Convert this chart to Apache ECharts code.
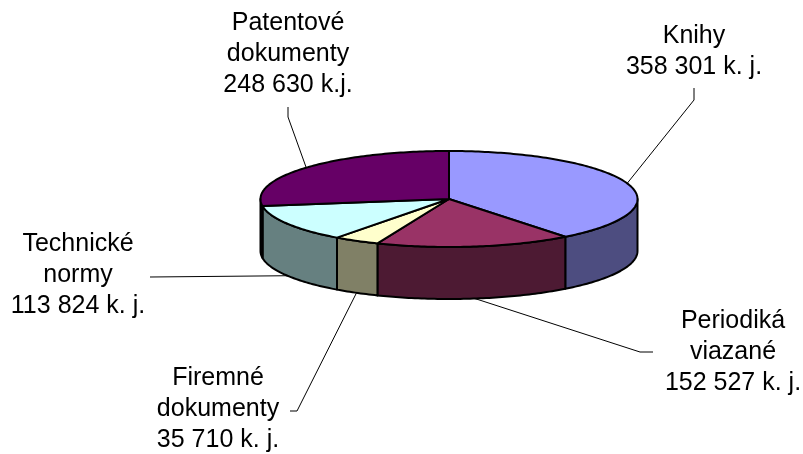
<!DOCTYPE html>
<html>
<head>
<meta charset="utf-8">
<script src="https://cdn.jsdelivr.net/npm/echarts@6/dist/echarts.min.js"></script>
<style>
    html, body { margin: 0; background: #fff; }
    #chart { width: 803px; height: 454px; }
</style>
</head>
<body>
<div id="chart"></div>
<script>
// data
var categories = ["Knihy", "Periodiká\nviazané", "Firemné\ndokumenty", "Technické\nnormy", "Patentové\ndokumenty"];
var values = [358301, 152527, 35710, 113824, 248630];
var units = ["k. j.", "k. j.", "k. j.", "k. j.", "k.j."];

// styles
var topColors = ["#9999FF", "#993366", "#FFFFCC", "#CCFFFF", "#660066"];
var sideColors = ["#4D4D80", "#4D1A33", "#808066", "#668080", "#330033"];

// 3d pie geometry (pixels)
var pie = { cx: 449, cy: 199, rx: 188.5, ry: 48, depth: 52 };

// label boxes and leader line elbows
var labelLayout = [
    { x: 694, y: 21, line: [[694, 100], [694, 88]] },
    { x: 733, y: 306, line: [[640, 352], [653, 352]] },
    { x: 218, y: 363, line: [[297, 411], [290, 411]] },
    { x: 78, y: 229, line: [[150, 277]] },
    { x: 288, y: 8, line: [[288, 117], [288, 107]] },
];

var total = values.reduce(function (s, v) { return s + v; }, 0);
var startAngles = [];
var acc = 0;
values.forEach(function (v) {
    startAngles.push(acc / total * 360);
    acc += v;
});

function fmt(v) {
    return String(v).replace(/\B(?=(\d{3})+(?!\d))/g, " ");
}

// angle in degrees, clockwise from 12 o'clock
function pt(a, dy) {
    var r = a * Math.PI / 180;
    return [pie.cx + pie.rx * Math.sin(r), pie.cy - pie.ry * Math.cos(r) + (dy || 0)];
}

function arc(a1, a2, dy) {
    var pts = [];
    var n = Math.max(2, Math.ceil((a2 - a1) / 1));
    for (var k = 0; k <= n; k++) {
        pts.push(pt(a1 + (a2 - a1) * k / n, dy));
    }
    return pts;
}

function renderItem(params, api) {
    var i = params.dataIndex;
    var a1 = startAngles[i];
    var a2 = a1 + api.value(0) / total * 360;
    var children = [];

    // side wall, only the front half is visible
    var s = Math.max(a1, 90), e = Math.min(a2, 270);
    if (s < e) {
        var sidePts = arc(s, e, 0).concat(arc(s, e, pie.depth).reverse());
        children.push({
            type: "polygon",
            z2: 0,
            shape: { points: sidePts },
            style: { fill: sideColors[i], stroke: "#000", lineWidth: 2, lineJoin: "round" },
        });
    }

    // top face
    children.push({
        type: "polygon",
        z2: 1,
        shape: { points: [[pie.cx, pie.cy]].concat(arc(a1, a2, 0)) },
        style: { fill: topColors[i], stroke: "#000", lineWidth: 2, lineJoin: "round" },
    });

    // leader line
    var mid = (a1 + a2) / 2;
    var front = mid > 90 && mid < 270;
    var anchor = pt(mid, front ? pie.depth : 0);
    var lay = labelLayout[i];
    children.push({
        type: "polyline",
        z2: 2,
        shape: { points: [anchor].concat(lay.line) },
        style: { stroke: "#000", lineWidth: 1, fill: null },
    });

    // label
    children.push({
        type: "text",
        z2: 3,
        style: {
            text: categories[i] + "\n" + fmt(api.value(0)) + " " + units[i],
            x: lay.x,
            y: lay.y,
            align: "center",
            verticalAlign: "top",
            fontFamily: "'Liberation Sans', Arial, sans-serif",
            fontSize: 25,
            lineHeight: 31,
            fill: "#000",
        },
    });

    return { type: "group", children: children };
}

var chart = echarts.init(document.getElementById("chart"));
chart.setOption({
    backgroundColor: "#fff",
    animation: false,
    series: [
        {
            type: "custom",
            coordinateSystem: "none",
            renderItem: renderItem,
            data: values.map(function (v, i) { return { name: categories[i], value: [v] }; }),
        },
    ],
});
</script>
</body>
</html>
